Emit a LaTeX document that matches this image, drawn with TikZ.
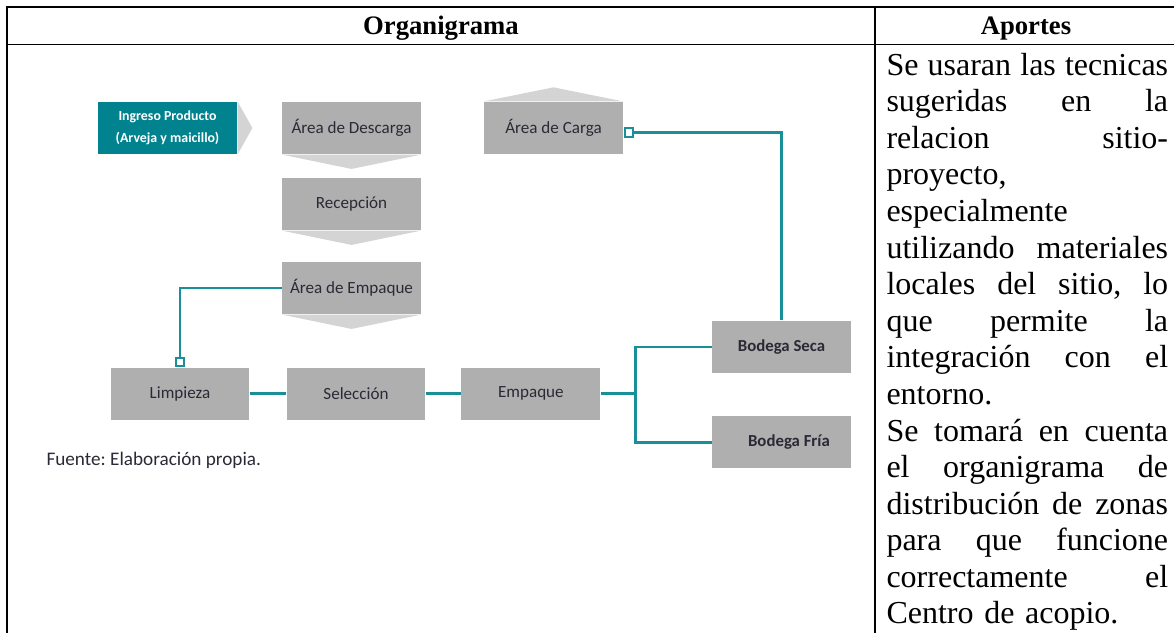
\documentclass[tikz,border=0pt]{standalone}
\usepackage{fontspec}
\setmainfont{Liberation Serif}
\newfontfamily\boxfont{Carlito}
\usetikzlibrary{positioning,arrows.meta}
\definecolor{boxgray}{RGB}{175,175,175}
\definecolor{chevgray}{RGB}{212,212,212}
\definecolor{tealbox}{RGB}{0,131,143}
\definecolor{tealline}{RGB}{24,143,153}
\definecolor{boxtext}{RGB}{42,42,54}
\newlength\apw
\setlength\apw{105.6pt}
\newcommand{\jline}[1]{\hbox to \apw{\spaceskip=.25em plus 1fil\relax #1}}
\frenchspacing

\begin{document}
\begin{tikzpicture}[x=0.375pt,y=-0.375pt,
  stage/.style={fill=boxgray,minimum width=52.1pt,minimum height=19.5pt,inner sep=0pt,
    text=boxtext,font=\boxfont\fontsize{6.4}{7.7}\selectfont},
  stagebold/.style={stage,font=\boxfont\bfseries\fontsize{6.3}{7.5}\selectfont},
  chevron/.style={fill=chevgray},
  link/.style={draw=tealline,line width=1.1pt},
  plug/.style={link,-{Square[open,length=3.8pt,width=3.8pt,line width=0.75pt]}},
  tablerule/.style={line width=0.65pt}]

  \useasboundingbox (0,0) rectangle (1174,633);

  % table frame
  \draw[tablerule] (6.8,660) -- (6.8,6.7) -- (1190,6.7);
  \draw[tablerule] (6.8,44.5) -- (1190,44.5);
  \draw[tablerule] (875,6.7) -- (875,660);
  \node[anchor=base,font=\bfseries] (hdorg) at (441,34) {Organigrama};
  \node[anchor=base,font=\bfseries] (hdapo) at (1026,34) {Aportes};

  % organigrama
  \node[stage,fill=tealbox,text=white,align=center,
    font=\boxfont\bfseries\fontsize{5.2}{8.1}\selectfont] (ingreso) at (167.5,128)
    {Ingreso Producto\\(Arveja y maicillo)};
  \node[stage] (descarga) at (351.5,128) {Área de Descarga};
  \node[stage] (recep) [below=8.6pt of descarga] {Recepción};
  \node[stage] (aemp) [below=11.6pt of recep] {Área de Empaque};
  \node[stage] (carga) at (553.5,128) {Área de Carga};
  \node[stage] (limp) at (180,393.5) {Limpieza};
  \node[stage] (selec) [right=13.5pt of limp] {Selección};
  \node[stage] (empq) [right=13.1pt of selec] {Empaque};
  \node[stagebold] (seca) at (781.5,347) {Bodega Seca};
  \node[stagebold] (fria) [below=15.75pt of seca] {\hspace{5.6pt}Bodega Fría};

  \fill[chevron] (ingreso.north east) -- ([xshift=5.6pt]ingreso.east) -- (ingreso.south east) -- cycle;
  \foreach \n in {descarga,recep,aemp}
    \fill[chevron] (\n.south west) -- ([yshift=-5.4pt]\n.south) -- (\n.south east) -- cycle;
  \fill[chevron] (carga.north west) -- ([yshift=5.3pt]carga.north) -- (carga.north east) -- cycle;

  \draw[plug] (aemp.west) -| (limp.north);
  \draw[plug] (seca.north) |- ([yshift=-1.7pt]carga.east);
  \draw[link] (limp) -- (selec);
  \draw[link] (selec) -- (empq);
  \draw[link] (empq.east) -- ++(13.1pt,0) coordinate (junc);
  \draw[link] (seca.west) -| (junc) |- (fria.west);

  \node[anchor=west,inner sep=0pt,text=boxtext,font=\boxfont\fontsize{7.2}{8.6}\selectfont] (fuente)
    at (46,460) {Fuente: Elaboración propia.};

  % aportes
  \node[anchor=base west,inner sep=0pt,text width=105.6pt,
    font=\fontsize{12}{13.725}\selectfont] (aportes) at (886,75) {%
    \jline{Se usaran las tecnicas}
    \jline{sugeridas en la}
    \jline{relacion sitio-}
    proyecto,\par
    especialmente\par
    \jline{utilizando materiales}
    \jline{locales del sitio, lo}
    \jline{que permite la}
    \jline{integración con el}
    entorno.\par
    \jline{Se tomará en cuenta}
    \jline{el organigrama de}
    \jline{distribución de zonas}
    \jline{para que funcione}
    \jline{correctamente el}
    Centro de acopio.};
\end{tikzpicture}
\end{document}
